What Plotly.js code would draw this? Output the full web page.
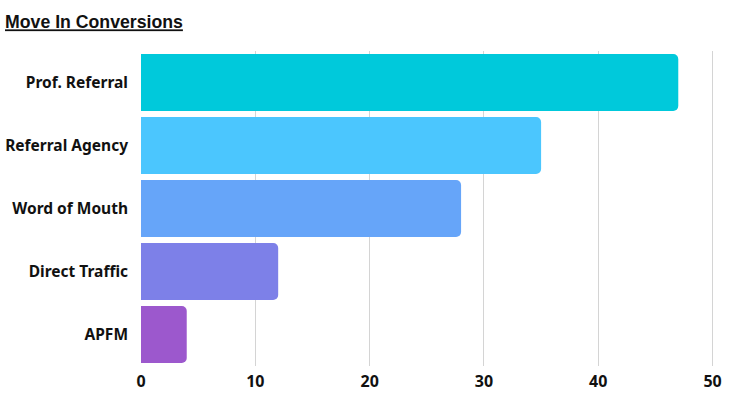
<!DOCTYPE html>
<html>
<head>
<meta charset="utf-8">
<script src="https://cdn.plot.ly/plotly-3.0.1.min.js"></script>
<style>html,body{margin:0;padding:0;background:#fff;}#chart{width:750px;height:396px;}</style>
</head>
<body>
<div id="chart"></div>
<script>
const categories = ["Prof. Referral", "Referral Agency", "Word of Mouth", "Direct Traffic", "APFM"];
const values = [47, 35, 28, 12, 4];
const barColors = ["#00C9DB", "#4BC6FE", "#66A5F9", "#7D80E8", "#9C58CD"];
const tickVals = [0, 10, 20, 30, 40, 50];

const FONT = "'Noto Sans', 'DejaVu Sans', sans-serif";
const TITLE_FONT = "'Liberation Sans', Arial, sans-serif";

const trace = {
  type: "bar",
  orientation: "h",
  y: categories,
  x: values,
  marker: { color: barColors, cornerradius: 5, line: { width: 0 } },
  hoverinfo: "none"
};

const layout = {
  width: 750,
  height: 396,
  paper_bgcolor: "#ffffff",
  plot_bgcolor: "#ffffff",
  margin: { l: 141, r: 26, t: 51, b: 30 },
  bargap: 0.095,
  showlegend: false,
  title: {
    text: "<u>Move In Conversions</u>",
    x: 0, xref: "container", xanchor: "left",
    y: 0.944, yref: "container", yanchor: "middle",
    pad: { l: 5 },
    font: { family: TITLE_FONT, size: 17.7, color: "#111111", weight: 700 }
  },
  xaxis: {
    range: [0, 51],
    tickvals: tickVals,
    ticktext: tickVals.map(String),
    showgrid: true,
    gridcolor: "#d4d4d4",
    gridwidth: 1,
    zeroline: false,
    showline: false,
    ticks: "",
    ticklabelstandoff: 4,
    tickfont: { family: FONT, size: 16, color: "#111111", weight: 700 },
    fixedrange: true
  },
  yaxis: {
    type: "category",
    autorange: "reversed",
    showgrid: false,
    zeroline: false,
    showline: false,
    ticks: "",
    ticklabelstandoff: 12,
    tickfont: { family: FONT, size: 15.5, color: "#111111", weight: 700 },
    fixedrange: true
  }
};

Plotly.newPlot("chart", [trace], layout, { displayModeBar: false, staticPlot: true });
</script>
</body>
</html>
